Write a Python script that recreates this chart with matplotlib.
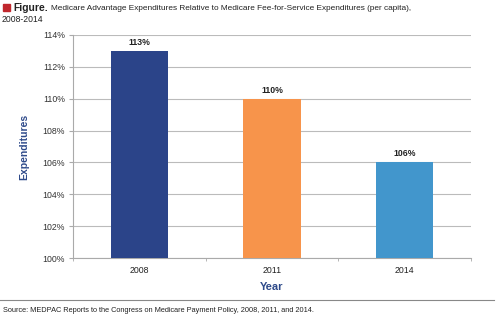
import matplotlib
matplotlib.use("Agg")
import matplotlib.pyplot as plt

plt.rcParams['font.family'] = ['Liberation Sans', 'DejaVu Sans']

years = ["2008", "2011", "2014"]
values = [113, 110, 106]
colors = ["#2b4489", "#f7944b", "#4296cc"]
yticks = [100, 102, 104, 106, 108, 110, 112, 114]

fig = plt.figure(figsize=(5, 3.21), dpi=100)
ax = fig.add_axes([73/500, 1 - 258/321, (471 - 73)/500, (258 - 35)/321])

x = range(len(years))
ax.bar(x, [v - 100 for v in values], bottom=100, width=0.43, color=colors, zorder=3)
for i, v in enumerate(values):
    ax.text(i, v + 0.25, f"{v}%", ha="center", va="bottom", fontsize=6.3, fontweight="bold", color="#222222")

ax.set_xlim(-0.5, 2.5)
ax.set_ylim(100, 114)
ax.set_yticks(yticks)
ax.set_yticklabels([f"{t}%" for t in yticks], fontsize=6.3, color="#333333")
ax.set_xticks(list(x))
ax.set_xticklabels(years, fontsize=6.3, color="#222222")
ax.set_xticks([-0.5, 0.5, 1.5, 2.5], minor=True)
ax.tick_params(axis="x", which="major", length=0, pad=6)
ax.tick_params(axis="x", which="minor", length=2, color="#aaaaaa")
ax.tick_params(axis="y", length=3, color="#aaaaaa", pad=3)
ax.grid(axis="y", color="#bbbbbb", linewidth=0.8, zorder=0)
for s in ["top", "right"]:
    ax.spines[s].set_visible(False)
ax.spines["left"].set_color("#aaaaaa")
ax.spines["bottom"].set_color("#aaaaaa")

ax.set_ylabel("Expenditures", fontsize=7.5, fontweight="bold", color="#2e4a8a", labelpad=9)
ax.set_xlabel("Year", fontsize=8, fontweight="bold", color="#2e4a8a", labelpad=5)

# header and footer
fig.patches.append(plt.Rectangle((3/500, 1 - 11/321), 7/500, 7/321, transform=fig.transFigure,
                                 color="#c0272d", figure=fig))
fig.text(13/500, 1 - 8/321, "Figure.", fontsize=7.4, fontweight="bold", va="center", color="#222222")
fig.text(51/500, 1 - 8/321, "Medicare Advantage Expenditures Relative to Medicare Fee-for-Service Expenditures (per capita),",
         fontsize=5.95, va="center", color="#222222")
fig.text(2/500, 1 - 20/321, "2008-2014", fontsize=6.2, va="center", color="#222222")
fig.add_artist(plt.Line2D([0, 494/500], [1 - 300/321, 1 - 300/321], color="#888888", linewidth=0.8))
fig.text(3/500, 1 - 311/321, "Source: MEDPAC Reports to the Congress on Medicare Payment Policy, 2008, 2011, and 2014.",
         fontsize=5.3, va="center", color="#222222")

fig.savefig("out.png", dpi=100)
